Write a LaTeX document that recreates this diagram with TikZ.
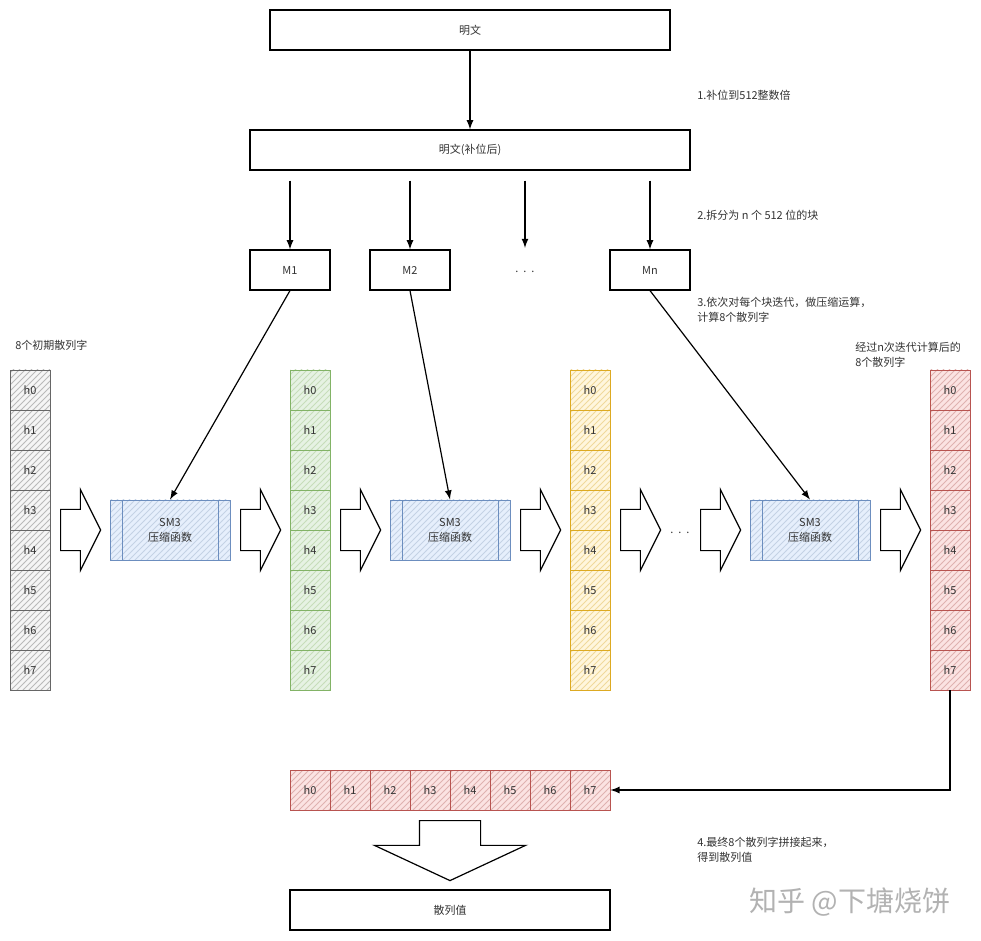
\documentclass[tikz,border=0pt]{standalone}
\usepackage{fontspec}
\setmainfont{Noto Sans CJK SC}
\usetikzlibrary{arrows,positioning,patterns,shapes.arrows}

\definecolor{linegrey}{HTML}{666666}
\definecolor{fillgrey}{HTML}{F5F5F5}
\definecolor{linegreen}{HTML}{82B366}
\definecolor{fillgreen}{HTML}{E6F2E3}
\definecolor{lineyellow}{HTML}{DDAA22}
\definecolor{fillyellow}{HTML}{FFF6DD}
\definecolor{linered}{HTML}{B85450}
\definecolor{fillred}{HTML}{FBE3E2}
\definecolor{lineblue}{HTML}{6C8EBF}
\definecolor{fillblue}{HTML}{E6EFFC}

\begin{document}
\begin{tikzpicture}[x=0.5pt, y=-0.5pt, -latex, semithick,
  every node/.style={font=\fontsize{5.5pt}{7.5pt}\selectfont, text=black!80},
  wide/.style={draw=black, minimum height=20pt, inner sep=0pt},
  block/.style={draw=black, minimum width=40pt, minimum height=20pt, inner sep=0pt},
  cell/.style={draw=line#1, thin, minimum size=20pt, inner sep=0pt, preaction={fill=fill#1}, pattern=north east lines, pattern color=line#1!45},
  sm3/.style={draw=lineblue, thin, minimum width=60pt, minimum height=30pt, align=center, preaction={fill=fillblue}, pattern=north east lines, pattern color=lineblue!40,
    path picture={\draw[lineblue, -] ([xshift=6pt]path picture bounding box.north west) -- ([xshift=6pt]path picture bounding box.south west)
      ([xshift=-6pt]path picture bounding box.north east) -- ([xshift=-6pt]path picture bounding box.south east);}},
  fat/.style={single arrow, draw=black, fill=white, anchor=tail, inner xsep=0pt, inner ysep=10pt, single arrow head extend=10pt, single arrow tip angle=127, minimum height=20pt},
  note/.style={anchor=west, align=left}]
\useasboundingbox (0,0) rectangle (981,941);

% message and padding
\node[wide, minimum width=200pt] (plain) at (470,30) {明文};
\node[wide, minimum width=220pt] (padded) at (470,150) {明文(补位后)};
\node[note] (n1) at (690,95) {1.补位到512整数倍};
\draw (plain) -- (padded);

% blocks
\node[block] (m1) at (290,270) {M1};
\node[block] (m2) at (410,270) {M2};
\node (mdots) at (525,272) {.\ \ .\ \ .};
\node[block] (mn) at (650,270) {Mn};
\node[note] (n2) at (690,215) {2.拆分为 n 个 512 位的块};
\node[note] (n3) at (690,310) {3.依次对每个块迭代，做压缩运算，\\计算8个散列字};
\foreach \m in {m1,m2,mn}
  \draw[shorten <=5pt] (padded.south -| \m) -- (\m.north);
\draw[shorten <=5pt, shorten >=8pt] (padded.south -| mdots) -- (mdots.north);

% hash words
\node[note] (lstart) at (8,345) {8个初期散列字};
\node[note] (lend) at (848,355) {经过n次迭代计算后的\\8个散列字};
\foreach \c/\x in {grey/30, green/310, yellow/590, red/950}
  \foreach \i in {0,...,7}
    \node[cell=\c] (\c\i) at (\x,{390+40*\i}) {h\i};

% compression
\node[sm3] (s1) at (170,530) {SM3\\压缩函数};
\node[sm3] (s2) at (450,530) {SM3\\压缩函数};
\node[sm3] (s3) at (810,530) {SM3\\压缩函数};
\foreach \x in {60,240,340,520,620,700,880}
  \node[fat] (fa\x) at (\x,530) {};
\node (sdots) at (680,533) {.\ \ .\ \ .};
\draw (m1.south) -- (s1.north);
\draw (m2.south) -- (s2.north);
\draw (mn.south) -- (s3.north);

% concatenation
\foreach \i in {0,...,7}
  \node[cell=red] (row\i) at ({310+40*\i},790) {h\i};
\draw (red7.south) |- (row7.east);
\node[fat, rotate=-90, inner ysep=15pt, single arrow head extend=22.5pt, single arrow tip angle=130, minimum height=30pt] (down) at (450,820) {};
\node[wide, minimum width=160pt] (hash) at (450,910) {散列值};
\node[note] (n4) at (690,850) {4.最终8个散列字拼接起来，\\得到散列值};

\node[text=black!30, font=\fontsize{14pt}{16pt}\selectfont] (mark) at (850,902) {知乎 @下塘烧饼};
\end{tikzpicture}
\end{document}
